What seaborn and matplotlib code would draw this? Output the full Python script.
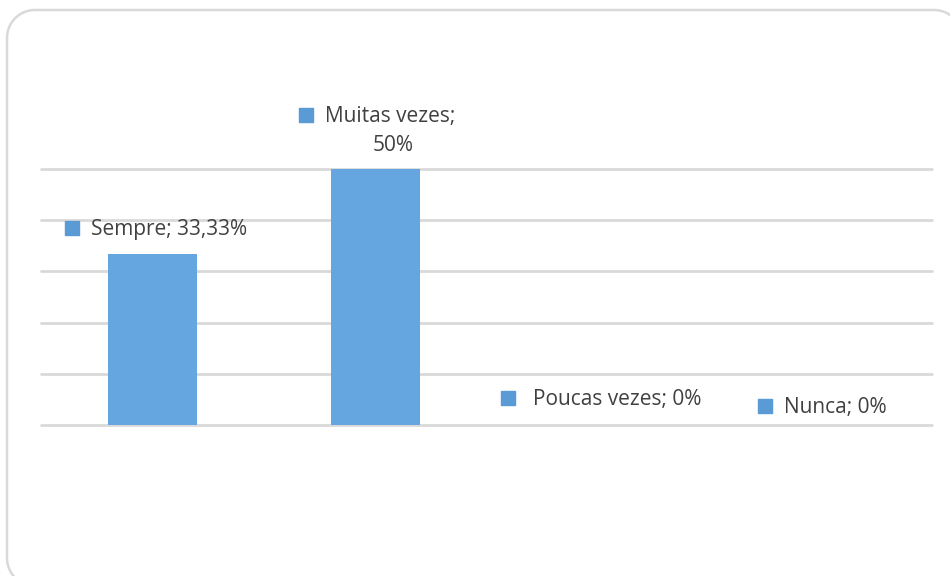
import matplotlib
matplotlib.use("Agg")
import matplotlib.pyplot as plt
import seaborn as sns
import pandas as pd
import numpy as np
from matplotlib.lines import Line2D

categories = ["Sempre", "Muitas vezes", "Poucas vezes", "Nunca"]
values = [33.33, 50, 0, 0]
value_labels = ["33,33%", "50%", "0%", "0%"]
yticks = [0, 10, 20, 30, 40, 50]

sns.set_theme(style="white")
plt.rcParams["font.family"] = ["Open Sans", "DejaVu Sans"]

BAR = "#65a5e0"
KEY = "#5b9bd5"
GRID = "#d9d9d9"
TXT = "#404040"

W, H = 950, 576
fig = plt.figure(figsize=(W/100, H/100), dpi=100)
fig.patch.set_facecolor("white")

# rounded chart border in pixel space (from top-left), converted to figure fraction
L, T, R, B, r = 7, 10, 962, 586, 28
def corner(cx, cy, a0, a1):
    a = np.linspace(np.radians(a0), np.radians(a1), 30)
    return cx + r*np.cos(a), cy - r*np.sin(a)
segs = [corner(L + r, T + r, 180, 90), corner(R - r, T + r, 90, 0),
        corner(R - r, B - r, 0, -90), corner(L + r, B - r, -90, -180)]
bx = np.concatenate([s[0] for s in segs] + [segs[0][0][:1]])
by = np.concatenate([s[1] for s in segs] + [segs[0][1][:1]])
fig.add_artist(Line2D(bx / W, 1 - by / H, transform=fig.transFigure,
                      color=GRID, linewidth=1.8, clip_on=False))

ax = fig.add_axes([41/950, 151/576, 891/950, 256/576])
df = pd.DataFrame({"cat": categories, "val": values})
sns.barplot(data=df, x="cat", y="val", color=BAR, saturation=1, width=0.4,
            linewidth=0, ax=ax)
ax.set_xlim(-0.5, 3.5)
ax.set_ylim(0, 50)
ax.set_yticks(yticks)
ax.yaxis.grid(True, color=GRID, linewidth=2)
for gl in ax.get_ygridlines():
    gl.set_clip_on(False)
ax.set_axisbelow(True)
for s in ax.spines.values():
    s.set_visible(False)
ax.set_xticks([])
ax.set_yticklabels([])
ax.tick_params(left=False, bottom=False)
ax.set_xlabel("")
ax.set_ylabel("")

fs = 15
ax.scatter([-0.361], [38.5], marker="s", s=100, color=KEY, clip_on=False, zorder=5)
ax.text(-0.2755, 38.2, f"{categories[0]}; {value_labels[0]}", color=TXT, fontsize=fs,
        va="center", ha="left", clip_on=False)

ax.scatter([0.69], [60.6], marker="s", s=100, color=KEY, clip_on=False, zorder=5)
ax.text(0.775, 60.2, f"{categories[1]};", color=TXT, fontsize=fs,
        va="center", ha="left", clip_on=False)
ax.text(1.08, 54.5, value_labels[1], color=TXT, fontsize=fs,
        va="center", ha="center", clip_on=False)

ax.scatter([1.5965], [5.3], marker="s", s=100, color=KEY, clip_on=False, zorder=5)
ax.text(1.709, 5.0, f"{categories[2]}; {value_labels[2]}", color=TXT, fontsize=fs,
        va="center", ha="left", clip_on=False)

ax.scatter([2.750], [3.7], marker="s", s=100, color=KEY, clip_on=False, zorder=5)
ax.text(2.8356, 3.5, f"{categories[3]}; {value_labels[3]}", color=TXT, fontsize=fs,
        va="center", ha="left", clip_on=False)

fig.savefig("out.png", dpi=100)
